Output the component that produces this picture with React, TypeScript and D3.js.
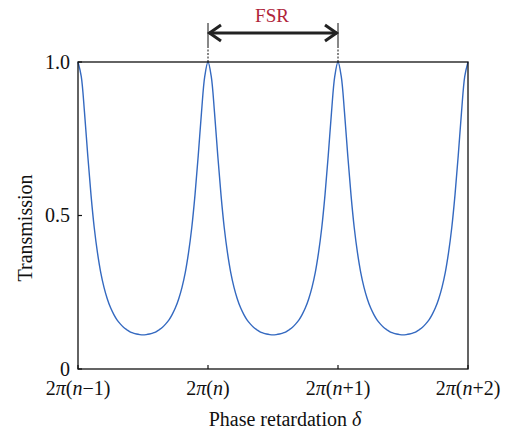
import React from "react";
import * as d3 from "d3";

// Transmission sampled every 1/40 of a free spectral range, across three orders
const transmission: number[] = [
  1, 0.953, 0.836, 0.696, 0.567, 0.46, 0.378, 0.314, 0.266, 0.229, 0.2, 0.178, 0.16, 0.147, 0.136, 0.128, 0.121, 0.117, 0.114, 0.112,
  0.111, 0.112, 0.114, 0.117, 0.121, 0.128, 0.136, 0.147, 0.16, 0.178, 0.2, 0.229, 0.266, 0.314, 0.378, 0.46, 0.567, 0.696, 0.836, 0.953,
  1, 0.953, 0.836, 0.696, 0.567, 0.46, 0.378, 0.314, 0.266, 0.229, 0.2, 0.178, 0.16, 0.147, 0.136, 0.128, 0.121, 0.117, 0.114, 0.112,
  0.111, 0.112, 0.114, 0.117, 0.121, 0.128, 0.136, 0.147, 0.16, 0.178, 0.2, 0.229, 0.266, 0.314, 0.378, 0.46, 0.567, 0.696, 0.836, 0.953,
  1, 0.953, 0.836, 0.696, 0.567, 0.46, 0.378, 0.314, 0.266, 0.229, 0.2, 0.178, 0.16, 0.147, 0.136, 0.128, 0.121, 0.117, 0.114, 0.112,
  0.111, 0.112, 0.114, 0.117, 0.121, 0.128, 0.136, 0.147, 0.16, 0.178, 0.2, 0.229, 0.266, 0.314, 0.378, 0.46, 0.567, 0.696, 0.836, 0.953,
  1,
];
const samplesPerOrder = 40;

const xTickValues: number[] = [0, 1, 2, 3];
const xTickLabels: string[] = ["2π(n−1)", "2π(n)", "2π(n+1)", "2π(n+2)"];
const yTickValues: number[] = [0, 0.5, 1];
const yTickLabels: string[] = ["0", "0.5", "1.0"];
const fsrFrom = 1;
const fsrTo = 2;
const xLabel = "Phase retardation ";
const xLabelSymbol = "δ";
const yLabel = "Transmission";
const fsrLabel = "FSR";

const W = 511;
const H = 434;
const L = 78;
const R = 468;
const T = 62;
const B = 369;
const FONT = "Liberation Serif, DejaVu Serif, serif";
const txt: React.CSSProperties = { fontFamily: FONT };

function renderMath(s: string) {
  return s.split("").map((c, i) =>
    c === "π" || c === "n" ? (
      <tspan key={i} fontStyle="italic">{c}</tspan>
    ) : (
      <tspan key={i}>{c}</tspan>
    )
  );
}

export default function App() {
  const x = d3.scaleLinear().domain([0, 3]).range([L, R]);
  const y = d3.scaleLinear().domain([0, 1]).range([B, T]);
  const pts: [number, number][] = transmission.map((v, i) => [i / samplesPerOrder, v]);
  const line = d3
    .line<[number, number]>()
    .x((d) => x(d[0]))
    .y((d) => y(d[1]))
    .curve(d3.curveCatmullRom.alpha(0.5));

  const ax = x(fsrFrom);
  const bx = x(fsrTo);
  const arrowY = 33;
  const head = 13;
  const hw = 8;

  return (
    <svg
      width={W}
      height={H}
      style={{ position: "absolute", left: 0, top: 0, background: "#fff" }}
    >
      <rect x={0} y={0} width={W} height={H} fill="#fff" />
      <path d={line(pts) || ""} fill="none" stroke="#3469c0" strokeWidth={1.4} />
      <rect x={L} y={T} width={R - L} height={B - T} fill="none" stroke="#111" strokeWidth={1.3} />
      {xTickValues.map((v, i) => (
        <g key={"xt" + i}>
          <line x1={x(v)} x2={x(v)} y1={B} y2={B - 4} stroke="#111" strokeWidth={1.2} />
          <text x={x(v)} y={395} textAnchor="middle" fontSize={20} fill="#111" style={txt}>
            {renderMath(xTickLabels[i])}
          </text>
        </g>
      ))}
      {yTickValues.map((v, i) => (
        <g key={"yt" + i}>
          <line x1={L} x2={L + 4} y1={y(v)} y2={y(v)} stroke="#111" strokeWidth={1.2} />
          <text x={70} y={y(v) + 6.5} textAnchor="end" fontSize={20} fill="#111" style={txt}>
            {yTickLabels[i]}
          </text>
        </g>
      ))}
      <text x={285} y={426} textAnchor="middle" fontSize={20} fill="#111" style={txt}>
        {xLabel}
        <tspan fontStyle="italic">{xLabelSymbol}</tspan>
      </text>
      <text
        transform={`translate(32, 228) rotate(-90)`}
        textAnchor="middle"
        fontSize={20}
        fill="#111"
        style={txt}
      >
        {yLabel}
      </text>
      {[ax, bx].map((px, i) => (
        <g key={"v" + i}>
          <line x1={px} x2={px} y1={23} y2={46} stroke="#111" strokeWidth={1} />
          <line x1={px} x2={px} y1={46} y2={T} stroke="#111" strokeWidth={1} strokeDasharray="2,1.5" />
        </g>
      ))}
      <line x1={ax + 1} x2={bx - 1} y1={arrowY} y2={arrowY} stroke="#222" strokeWidth={3} />
      <polyline
        points={`${ax + head},${arrowY - hw} ${ax + 1.5},${arrowY} ${ax + head},${arrowY + hw}`}
        fill="none"
        stroke="#222"
        strokeWidth={3}
      />
      <polyline
        points={`${bx - head},${arrowY - hw} ${bx - 1.5},${arrowY} ${bx - head},${arrowY + hw}`}
        fill="none"
        stroke="#222"
        strokeWidth={3}
      />
      <text x={272} y={22} textAnchor="middle" fontSize={19} fill="#b0243a" style={txt}>
        {fsrLabel}
      </text>
    </svg>
  );
}
